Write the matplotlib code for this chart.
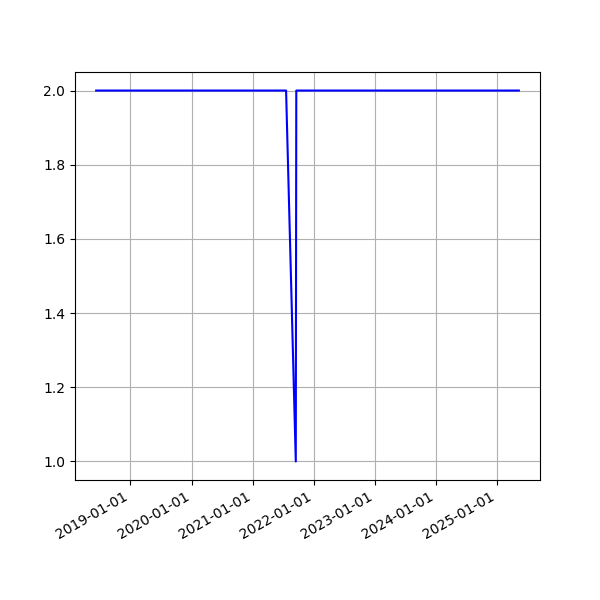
import matplotlib
matplotlib.use("Agg")
import matplotlib.pyplot as plt
import matplotlib.dates as mdates
import pandas as pd

dates = ["2018-06-10", "2021-07-19", "2021-09-15", "2021-09-18", "2025-05-10"]
values = [2, 2, 1, 2, 2]

x = pd.to_datetime(dates)

fig, ax = plt.subplots(figsize=(6, 6), dpi=100)
ax.plot(x, values, color="blue")
ax.grid(True)
ax.xaxis.set_major_locator(mdates.YearLocator())
ax.xaxis.set_major_formatter(mdates.DateFormatter("%Y-%m-%d"))
fig.autofmt_xdate()
fig.savefig("out.png")
